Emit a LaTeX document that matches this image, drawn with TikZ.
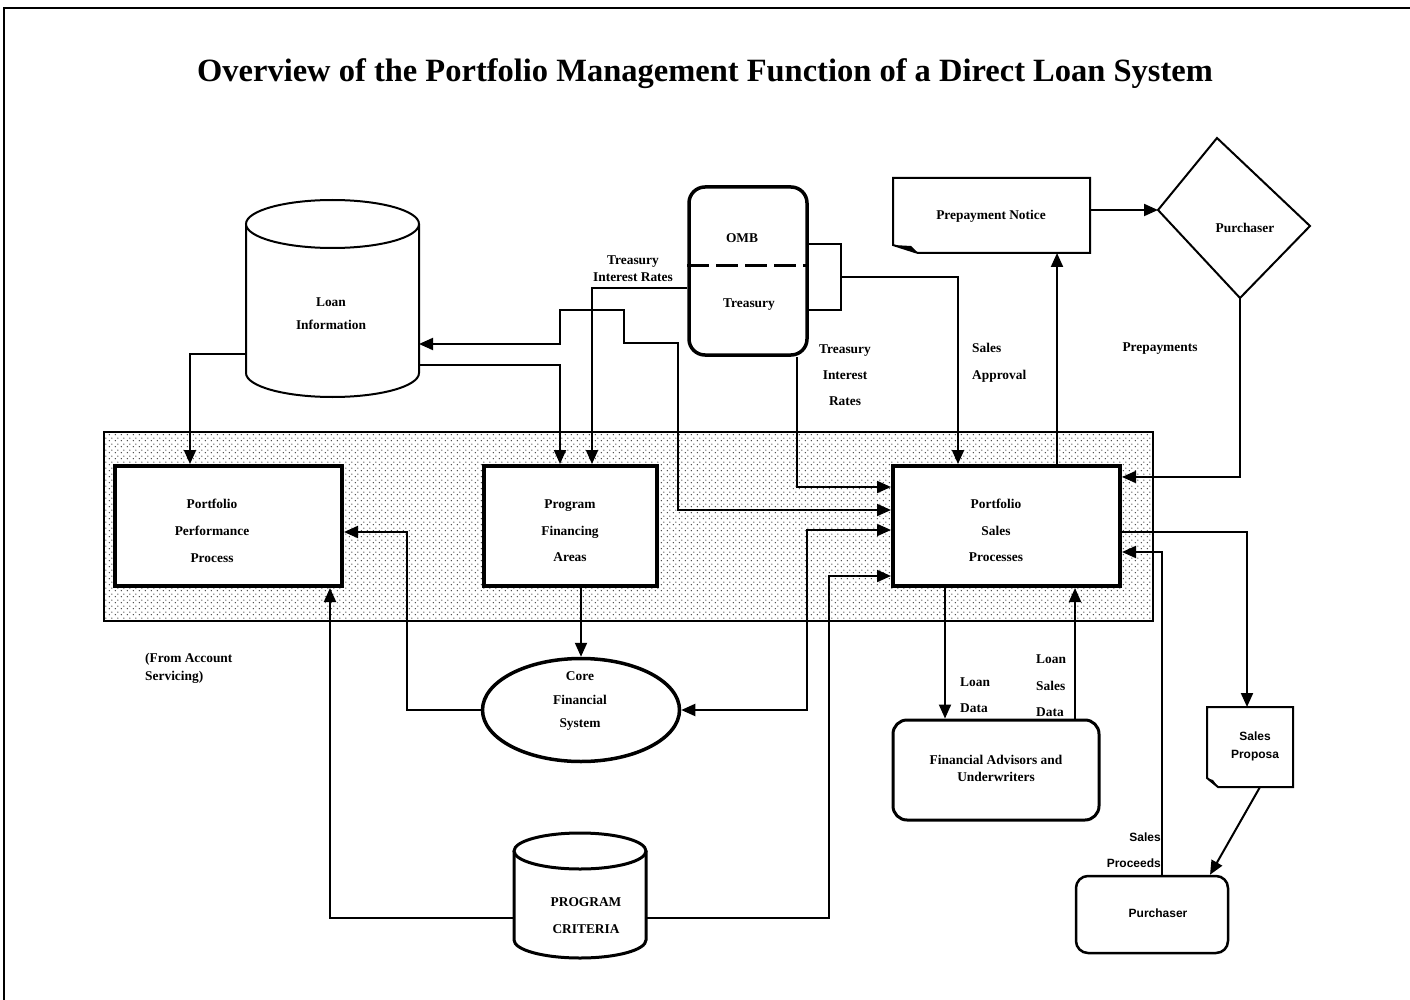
\documentclass[tikz,border=0pt]{standalone}
\usepackage{fontspec}
\setmainfont{Liberation Serif}
\newfontfamily\lblsans{Liberation Sans}
\usetikzlibrary{arrows.meta,patterns.meta,shapes.geometric,calc}
\tikzdeclarepattern{
  name=banddots,
  type=uncolored,
  bounding box={(0pt,0pt) and (6pt,6pt)},
  tile size={(6pt,6pt)},
  code={\fill (1.5pt,1.5pt) circle (0.85pt); \fill (4.5pt,4.5pt) circle (0.85pt);}
}
\begin{document}
\begin{tikzpicture}[x=1pt,y=-1pt,
  lbl/.style={font=\fontsize{13.4}{15}\selectfont\bfseries, inner sep=0pt, align=center},
  slbl/.style={font=\fontsize{12}{14}\selectfont\bfseries\lblsans, inner sep=0pt, align=center},
  conn/.style={line width=2pt},
  arr/.style={conn,-{Triangle[length=14pt,width=12pt]}},
  arrb/.style={conn,{Triangle[length=14pt,width=12pt]}-{Triangle[length=14pt,width=12pt]}},
  procbox/.style={draw, line width=4pt, fill=white, rectangle, inner sep=0pt},
  rbox/.style={draw, fill=white, rectangle, rounded corners=14pt, inner sep=0pt},
  ghost/.style={rectangle, inner sep=0pt, outer sep=0pt}
]
\useasboundingbox (0,0) rectangle (1410,1000);
\fill[white] (0,0) rectangle (1410,1000);
% page frame
\draw[line width=1.5pt] (4,1000) -- (4,8) -- (1410,8);

% title
\node[font=\fontsize{32.5}{38}\selectfont\bfseries, inner sep=0pt] (title) at (705,74)
  {Overview of the Portfolio Management Function of a Direct Loan System};

% shaded band
\path[pattern=banddots, pattern color=black!75] (104,432) rectangle (1153,621);
\draw[line width=2pt] (104,432) rectangle (1153,621);

% Loan Information cylinder
\draw[line width=2pt, fill=white] (246,224) -- (246,373)
  arc[start angle=180, end angle=360, x radius=86.5pt, y radius=24pt] -- (419,224);
\draw[line width=2pt, fill=white] (332.5,224) ellipse [x radius=86.5pt, y radius=24pt];
\node[ghost, minimum width=173pt, minimum height=173pt] (li) at (332.5,310.5) {};

% Program criteria cylinder
\draw[line width=3pt, fill=white] (514,851) -- (514,940)
  arc[start angle=180, end angle=360, x radius=66pt, y radius=18pt] -- (646,851);
\draw[line width=3pt, fill=white] (580,851) ellipse [x radius=66pt, y radius=18pt];
\node[ghost, minimum width=132pt, minimum height=125pt] (pc) at (580,895) {};

% process boxes
\node[procbox, minimum width=227pt, minimum height=120pt] (ppp) at (228.5,526) {};
\node[procbox, minimum width=173pt, minimum height=120pt] (pfa) at (570.5,526) {};
\node[procbox, minimum width=227pt, minimum height=120pt] (pps) at (1006.5,526) {};

% OMB / Treasury
\node[rbox, line width=3.5pt, rounded corners=16pt, minimum width=118pt, minimum height=168pt] (omb) at (748,271) {};
\draw[line width=3pt, dash pattern=on 22pt off 7pt] (omb.west |- 0,266) -- (omb.east |- 0,266);
\draw[conn] (omb.east |- 0,244) -- (841,244) -- (841,310) -- (omb.east |- 0,310);

% Prepayment notice (document)
\node[ghost, minimum width=197pt, minimum height=75pt] (pn) at (991.5,215.5) {};
\draw[line width=2pt, fill=white] (893,178) -- (1090,178) -- (1090,253) -- (918,253) -- (893,245) -- cycle;
\fill (893,245) -- (918,253) -- (911,246) -- cycle;

% Purchaser diamond
\coordinate (dt) at (1217,138);
\coordinate (dr) at (1310,226);
\coordinate (db) at (1240,298);
\coordinate (dl) at (1158,210);
\draw[line width=2pt, fill=white] (dt) -- (dr) -- (db) -- (dl) -- cycle;

% Core financial system
\node[ellipse, draw, line width=3.5pt, fill=white, minimum width=197pt, minimum height=103pt, inner sep=0pt] (cfs) at (581,710) {};

% Financial advisors
\node[rbox, line width=3pt, minimum width=206pt, minimum height=100pt] (fa) at (996,770) {};

% Sales proposal (document)
\node[ghost, minimum width=86pt, minimum height=80pt] (sp) at (1250,747) {};
\draw[line width=2pt, fill=white] (1207,707) -- (1293,707) -- (1293,787) -- (1218,787) -- (1207,778) -- cycle;
\fill (1207,778) -- (1218,787) -- (1213,780) -- cycle;

% Purchaser box
\node[rbox, line width=2.5pt, rounded corners=12pt, minimum width=152pt, minimum height=77pt] (pb) at (1152,914.5) {};

% ---------- connectors ----------
\draw[arr] (li.west |- 0,354) -- (190,354) -- (ppp.north -| 190,0);
\draw[arr] (li.east |- 0,365) -- (560,365) -- (pfa.north -| 560,0);
\draw[arrb] (li.east |- 0,344) -- (560,344) -- (560,310) -- (624,310) -- (624,343) -- (678,343) -- (678,510) -- (pps.west |- 0,510);
\draw[arr] (omb.west |- 0,288) -- (592,288) -- (pfa.north -| 592,0);
\draw[arr] (omb.south -| 797,0) -- (797,487) -- (pps.west |- 0,487);
\draw[arr] (841,277) -- (958,277) -- (pps.north -| 958,0);
\draw[arr] (pps.north -| 1057,0) -- (pn.south -| 1057,0);
\draw[arr] (pn.east |- dl) -- (dl);
\draw[arr] (db) -- (1240,477) -- (pps.east |- 0,477);
\draw[arr] (pps.east |- 0,532) -- (1247,532) -- (sp.north -| 1247,0);
\draw[arr] (sp.south -| 1260,0) -- (pb.north -| 1210,0);
\draw[arr] (pb.north -| 1162,0) -- (1162,552) -- (pps.east |- 0,552);
\draw[arr] (pps.south -| 945,0) -- (fa.north -| 945,0);
\draw[arr] (fa.north -| 1075,0) -- (pps.south -| 1075,0);
\draw[arr] (pfa.south -| 581,0) -- (cfs.north);
\draw[arr] (cfs.west) -- (407,710) -- (407,532) -- (ppp.east |- 0,532);
\draw[arrb] (pps.west |- 0,530) -- (807,530) -- (807,710) -- (cfs.east);
\draw[arr] (pc.west |- 0,918) -- (330,918) -- (ppp.south -| 330,0);
\draw[arr] (pc.east |- 0,918) -- (829,918) -- (829,576) -- (pps.west |- 0,576);

% ---------- labels ----------
\node[lbl] (lppp) at (212,531) {Portfolio\\[12pt]Performance\\[12pt]Process};
\node[lbl] (lpfa) at (570,530.5) {Program\\[12pt]Financing\\[11pt]Areas};
\node[lbl] (lpps) at (996,530.5) {Portfolio\\[12pt]Sales\\[11pt]Processes};
\node[lbl] (lomb) at (742,238) {OMB};
\node[lbl] (ltr) at (749,305) {Treasury};
\node[lbl] (lli) at (331,313.5) {Loan\\[8pt]Information};
\node[lbl] (ltir1) at (633,268.5) {Treasury\\[2pt]Interest Rates};
\node[lbl] (ltir2) at (845,375.5) {Treasury\\[11pt]Interest\\[11pt]Rates};
\node[lbl, anchor=west, align=left] (lsa) at (972,362.5) {Sales\\[12pt]Approval};
\node[lbl] (lprep) at (1160,349) {Prepayments};
\node[lbl] (lpn) at (991,216) {Prepayment Notice};
\node[lbl] (lpd) at (1245,228) {Purchaser};
\node[lbl] (lcfs) at (580,701.5) {Core\\[9pt]Financial\\[8pt]System};
\node[lbl, anchor=west, align=left] (lfas) at (145,668) {(From Account\\[3pt]Servicing)};
\node[lbl, anchor=west, align=left] (lld) at (960,695) {Loan\\[11pt]Data};
\node[lbl, anchor=west, align=left] (llsd) at (1036,685.5) {Loan\\[12pt]Sales\\[11pt]Data};
\node[lbl] (lfa) at (996,768.5) {Financial Advisors and\\[2pt]Underwriters};
\node[slbl] (lsp) at (1255,746) {Sales\\[4pt]Proposa};
\node[slbl, anchor=east, align=right] (lspr) at (1161,850) {Sales\\[12pt]Proceeds};
\node[slbl] (lpb) at (1158,913) {Purchaser};
\node[lbl] (lpc) at (586,915.5) {PROGRAM\\[12pt]CRITERIA};
\end{tikzpicture}
\end{document}
